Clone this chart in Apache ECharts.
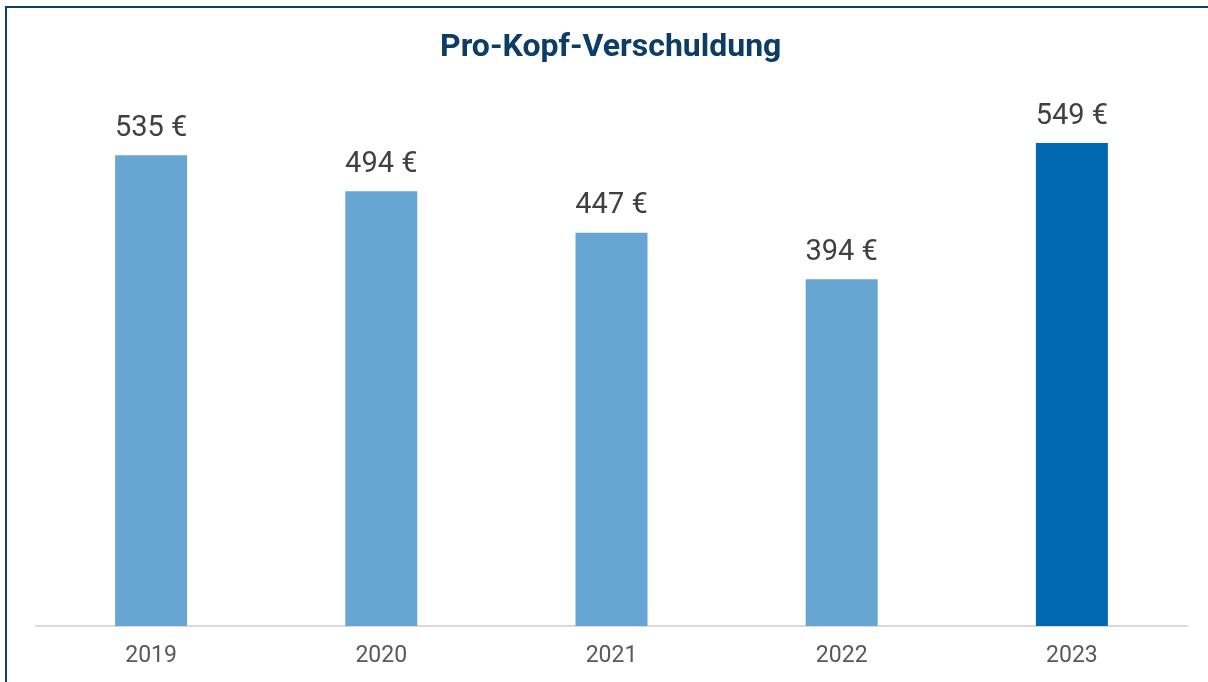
<!DOCTYPE html>
<html>
<head>
<meta charset="utf-8">
<script src="https://cdn.jsdelivr.net/npm/echarts@6/dist/echarts.min.js"></script>
<style>
  html, body { margin: 0; padding: 0; background: #fff; }
  #frame {
    position: absolute; left: 5px; top: 6px; width: 1203px; height: 676px;
    border-left: 2px solid #0e3f66; border-top: 2px solid #0e3f66;
  }
  #main { position: absolute; left: -7px; top: -8px; width: 1208px; height: 682px; }
</style>
</head>
<body>
<div id="frame"><div id="main"></div></div>
<script>
// Daten
var years = ['2019', '2020', '2021', '2022', '2023'];
var values = [535, 494, 447, 394, 549];
var barColors = ['#67a6d3', '#67a6d3', '#67a6d3', '#67a6d3', '#0068b1'];

var chart = echarts.init(document.getElementById('main'));

var option = {
    animation: false,
    title: {
        text: 'Pro-Kopf-Verschuldung',
        left: 440,
        top: 32,
        padding: 0,
        textStyle: {
            fontFamily: 'Roboto',
            fontWeight: 'bold',
            fontSize: 32,
            color: '#0b3d66'
        }
    },
    grid: {
        left: 36, right: 21, top: 98, bottom: 56
    },
    xAxis: {
        type: 'category',
        data: years,
        axisLine: { lineStyle: { color: '#d9d9d9', width: 2 } },
        axisTick: { show: false },
        axisLabel: {
            fontFamily: 'Roboto',
            fontSize: 23,
            color: '#595959',
            margin: 19
        }
    },
    yAxis: {
        type: 'value',
        min: 0,
        max: 600,
        show: false,
        splitLine: { show: false }
    },
    series: [{
        type: 'bar',
        barWidth: 72,
        data: values.map(function (v, i) {
            return { value: v, itemStyle: { color: barColors[i] } };
        }),
        label: {
            show: true,
            position: 'top',
            distance: 12,
            fontFamily: 'Roboto',
            fontSize: 29,
            color: '#404040',
            formatter: function (p) { return p.value + ' €'; }
        }
    }]
};

chart.setOption(option);
</script>
</body>
</html>
